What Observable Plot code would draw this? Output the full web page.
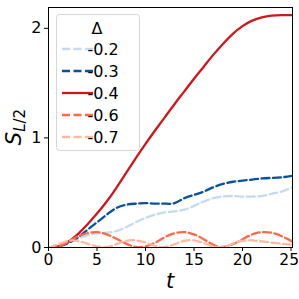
<!DOCTYPE html>
<html>
<head>
<meta charset="utf-8">
<script src="https://cdn.jsdelivr.net/npm/d3@7"></script>
<script src="https://cdn.jsdelivr.net/npm/@observablehq/plot@0.6"></script>
<style>
  html, body { margin: 0; padding: 0; background: #fff; }
  #chart { width: 299px; height: 299px; }
</style>
</head>
<body>
<div id="chart"></div>
<script>
// ---- data ----
const tValues = [0,1,2,3,4,5,6,7,8,9,10,11,12,13,14,15,16,17,18,19,20,21,22,23,24,25.15];
const deltaLabels = ["-0.2", "-0.3", "-0.4", "-0.6", "-0.7"];
const sDm02 = [0,0.01,0.04,0.08,0.11,0.13,0.135,0.15,0.185,0.23,0.27,0.30,0.32,0.33,0.345,0.38,0.42,0.45,0.465,0.47,0.465,0.465,0.47,0.49,0.51,0.55];
const sDm03 = [0,0.01,0.04,0.09,0.16,0.23,0.30,0.36,0.39,0.40,0.405,0.40,0.40,0.405,0.45,0.48,0.51,0.55,0.58,0.60,0.61,0.62,0.63,0.635,0.64,0.655];
const sDm04 = [0,0.01,0.05,0.12,0.21,0.31,0.42,0.545,0.68,0.815,0.945,1.07,1.19,1.31,1.425,1.54,1.65,1.76,1.86,1.95,2.02,2.07,2.10,2.115,2.12,2.12];
const sDm06 = [0,0.01,0.05,0.10,0.13,0.14,0.12,0.08,0.035,0.005,0.01,0.045,0.095,0.13,0.14,0.12,0.075,0.025,0.005,0.03,0.075,0.12,0.14,0.135,0.105,0.055];
const sDm07 = [0,0.03,0.06,0.06,0.035,0.01,0.005,0.03,0.06,0.065,0.045,0.015,0.005,0.03,0.06,0.065,0.04,0.01,0.005,0.035,0.06,0.065,0.055,0.045,0.035,0.025];
const xTicks = [0,5,10,15,20,25];
const yTicks = [0,1,2];

const seriesValues = [sDm02, sDm03, sDm04, sDm06, sDm07];
const colors = ["#c6dbef", "#08519c", "#cb181d", "#fb6a4a", "#fcbba1"];
const dashes = ["8,3.5", "8,3.5", null, "8,3.5", "8,3.5"];

const series = deltaLabels.map((lab, i) => ({
  label: lab,
  color: colors[i],
  dash: dashes[i],
  data: tValues.map((t, j) => ({t, s: seriesValues[i][j]}))
}));

const W = 299, H = 299;
const mL = 48, mR = 7, mT = 7, mB = 52;
const lastTick = xTicks[xTicks.length - 1];

const plot = Plot.plot({
  width: W,
  height: H,
  marginLeft: mL,
  marginRight: mR,
  marginTop: mT,
  marginBottom: mB,
  style: {fontFamily: "DejaVu Sans", fontSize: "16px", background: "#fff", color: "#000"},
  x: {domain: [0, 25.15]},
  y: {domain: [0, 2.19]},
  marks: [
    ...series.map(s => Plot.line(s.data, {
      x: "t", y: "s",
      stroke: s.color,
      strokeWidth: 2.3,
      strokeDasharray: s.dash,
      curve: "natural",
      clip: true
    })),
    Plot.frame({stroke: "#000", strokeWidth: 1}),
    Plot.axisX({ticks: xTicks, tickSize: 4, tickPadding: 2, fontSize: 15.5, label: null,
      tickFormat: d => d === lastTick ? "" : String(d)}),
    Plot.text([lastTick], {x: d => d, frameAnchor: "bottom", lineAnchor: "top", dy: 6,
      textAnchor: "end", dx: 8, fontSize: 15.5, text: d => String(d)}),
    Plot.axisY({ticks: yTicks, tickSize: 4, tickPadding: 3, fontSize: 16, label: null, tickFormat: d => String(d)})
  ]
});

document.getElementById("chart").appendChild(plot);

const svg = d3.select(plot);

// x axis label
svg.append("text")
  .attr("x", (mL + (W - mR)) / 2)
  .attr("y", 288)
  .attr("text-anchor", "middle")
  .attr("font-family", "DejaVu Sans")
  .attr("font-style", "italic")
  .attr("font-size", 21)
  .attr("fill", "#000")
  .text("t");

// y axis label  S_{L/2}
const yl = svg.append("text")
  .attr("transform", "translate(21,127) rotate(-90)")
  .attr("text-anchor", "middle")
  .attr("font-family", "DejaVu Sans")
  .attr("fill", "#000");
yl.append("tspan").attr("font-size", 21).attr("font-style", "italic").text("S");
const sub = yl.append("tspan").attr("font-size", 15).attr("dy", 4);
sub.append("tspan").attr("font-style", "italic").text("L");
sub.append("tspan").text("/2");

// legend
const lg = svg.append("g");
lg.append("rect")
  .attr("x", 56.5).attr("y", 14.5)
  .attr("width", 83).attr("height", 136)
  .attr("rx", 3)
  .attr("fill", "#fff").attr("fill-opacity", 0.85)
  .attr("stroke", "#d6d6d6");
lg.append("text")
  .attr("x", 97).attr("y", 34)
  .attr("text-anchor", "middle")
  .attr("font-family", "DejaVu Sans").attr("font-size", 16)
  .attr("fill", "#000")
  .text("Δ");
series.forEach((s, i) => {
  const yy = 49 + i * 22;
  lg.append("line")
    .attr("x1", 62).attr("x2", 93)
    .attr("y1", yy).attr("y2", yy)
    .attr("stroke", s.color).attr("stroke-width", 2.3)
    .attr("stroke-dasharray", s.dash);
  lg.append("text")
    .attr("x", 103).attr("y", yy + 6)
    .attr("font-family", "DejaVu Sans").attr("font-size", 16)
    .attr("fill", "#000")
    .text(s.label);
});
</script>
</body>
</html>
